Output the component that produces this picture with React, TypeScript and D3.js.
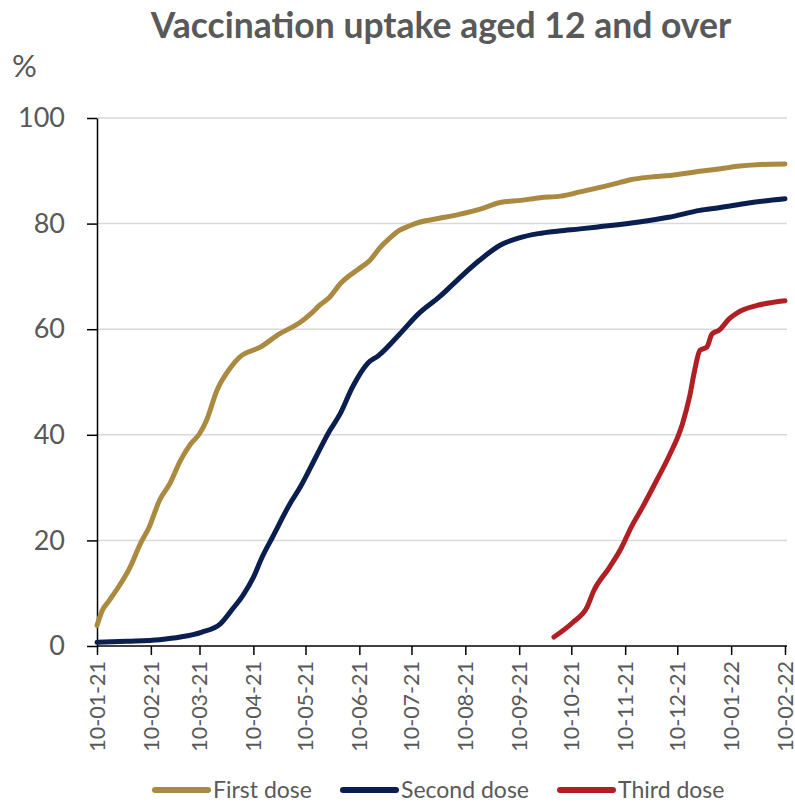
import React, { useRef, useEffect } from 'react';
import * as d3 from 'd3';

// first dose, % of people aged 12+
const firstDates = [
  '2021-01-10', '2021-01-13', '2021-01-17', '2021-01-23', '2021-01-29', '2021-02-04', '2021-02-09',
  '2021-02-15', '2021-02-21', '2021-02-27', '2021-03-05', '2021-03-10', '2021-03-14', '2021-03-20',
  '2021-03-28', '2021-04-02', '2021-04-14', '2021-04-25', '2021-05-07', '2021-05-13', '2021-05-18',
  '2021-05-24', '2021-05-30', '2021-06-10', '2021-06-16', '2021-06-22', '2021-06-28', '2021-07-03',
  '2021-07-09', '2021-07-15', '2021-07-26', '2021-08-07', '2021-08-19', '2021-08-30', '2021-09-11',
  '2021-09-22', '2021-10-04', '2021-10-15', '2021-10-27', '2021-11-07', '2021-11-13', '2021-11-24',
  '2021-12-06', '2021-12-23', '2022-01-04', '2022-01-15', '2022-01-27', '2022-02-10',
];
const firstValues = [
  3.9, 6.7, 8.6, 11.5, 14.9, 19.4, 22.5,
  27.6, 30.8, 35.1, 38.3, 40.2, 42.7, 48.4,
  52.8, 54.7, 56.6, 59.1, 61.3, 62.9, 64.5,
  66.1, 68.6, 71.5, 73.0, 75.5, 77.4, 78.7,
  79.6, 80.3, 81.0, 81.8, 82.8, 84.0, 84.4,
  84.9, 85.2, 86.0, 86.9, 87.8, 88.3, 88.8,
  89.1, 89.9, 90.4, 90.9, 91.2, 91.3,
];

const secondDates = [
  '2021-01-10', '2021-01-27', '2021-02-15', '2021-02-27', '2021-03-11', '2021-03-22', '2021-03-29',
  '2021-04-04', '2021-04-10', '2021-04-15', '2021-04-21', '2021-05-01', '2021-05-07', '2021-05-16',
  '2021-05-24', '2021-05-30', '2021-06-06', '2021-06-15', '2021-06-21', '2021-07-03', '2021-07-14',
  '2021-07-26', '2021-08-06', '2021-08-18', '2021-08-30', '2021-09-10', '2021-09-21', '2021-10-03',
  '2021-10-15', '2021-10-26', '2021-11-18', '2021-12-05', '2021-12-23', '2022-01-03', '2022-01-20',
  '2022-02-10',
];
const secondValues = [
  0.7, 0.9, 1.2, 1.7, 2.6, 4.2, 7.0,
  9.6, 13.0, 16.8, 20.6, 26.9, 30.1, 35.8,
  40.8, 44.0, 49.0, 53.6, 55.0, 59.0, 62.9,
  66.1, 69.5, 73.0, 75.9, 77.3, 78.1, 78.6,
  79.0, 79.4, 80.3, 81.2, 82.5, 83.0, 83.9,
  84.7,
];

const thirdDates = [
  '2021-09-30', '2021-10-11', '2021-10-19', '2021-10-23', '2021-11-01', '2021-11-08', '2021-11-13',
  '2021-11-20', '2021-11-28', '2021-12-05', '2021-12-13', '2021-12-17', '2021-12-20', '2021-12-23',
  '2021-12-27', '2021-12-30', '2022-01-03', '2022-01-09', '2022-01-14', '2022-01-25', '2022-02-10',
];
const thirdValues = [
  1.7, 4.5, 7.3, 10.5, 14.9, 18.7, 22.2,
  26.3, 31.3, 35.8, 42.1, 47.1, 52.2, 56.0,
  56.6, 59.1, 59.8, 62.0, 63.2, 64.5, 65.4,
];

const tickDates = [
  '2021-01-10', '2021-02-10', '2021-03-10', '2021-04-10', '2021-05-10', '2021-06-10', '2021-07-10',
  '2021-08-10', '2021-09-10', '2021-10-10', '2021-11-10', '2021-12-10', '2022-01-10', '2022-02-10',
];
const yTicks = [0, 20, 40, 60, 80, 100];

const seriesNames = ['First dose', 'Second dose', 'Third dose'];
const colors = ['#A98A40', '#0A1F50', '#B01F24'];

const FONT = 'Lato, sans-serif';
const GREY = '#595959';

export default function App() {
  const svgRef = useRef(null);

  useEffect(() => {
    const svg = d3.select(svgRef.current);
    svg.selectAll('*').remove();

    const parse = d3.timeParse('%Y-%m-%d');
    const fmt = d3.timeFormat('%d-%m-%y');

    const left = 97, right = 785, top = 118, bottom = 646;

    const x = d3.scaleTime()
      .domain([parse(tickDates[0]), parse(tickDates[tickDates.length - 1])])
      .range([left, right]);
    const y = d3.scaleLinear().domain([0, 100]).range([bottom, top]);

    // title and unit
    svg.append('text')
      .attr('x', (left + right) / 2)
      .attr('y', 38)
      .attr('text-anchor', 'middle')
      .attr('font-family', FONT)
      .attr('font-weight', 700)
      .attr('font-size', 35.5)
      .attr('fill', GREY)
      .text('Vaccination uptake aged 12 and over');

    svg.append('text')
      .attr('x', 12)
      .attr('y', 77)
      .attr('font-family', FONT)
      .attr('font-size', 31)
      .attr('fill', GREY)
      .text('%');

    // gridlines
    svg.append('g')
      .selectAll('line')
      .data(yTicks.filter(d => d > 0))
      .join('line')
      .attr('x1', left)
      .attr('x2', right + 2)
      .attr('y1', d => y(d))
      .attr('y2', d => y(d))
      .attr('stroke', '#d9d9d9')
      .attr('stroke-width', 1.5);

    // y axis
    const yAxis = svg.append('g')
      .attr('transform', `translate(${left},0)`)
      .call(d3.axisLeft(y).tickValues(yTicks).tickSize(10).tickSizeOuter(0).tickPadding(22));
    yAxis.select('.domain').attr('stroke', '#000').attr('stroke-width', 1.5);
    yAxis.selectAll('line').attr('stroke', '#000').attr('stroke-width', 1.5);
    yAxis.selectAll('text')
      .attr('font-family', FONT)
      .attr('font-size', 27)
      .attr('fill', GREY);

    // x axis
    const xAxis = svg.append('g')
      .attr('transform', `translate(0,${bottom})`)
      .call(d3.axisBottom(x).tickValues(tickDates.map(parse)).tickFormat(fmt).tickSize(9).tickSizeOuter(0));
    xAxis.select('.domain').attr('stroke', '#000').attr('stroke-width', 1.5).attr('d', `M${left},0H${right + 2}`);
    xAxis.selectAll('line').attr('stroke', '#000').attr('stroke-width', 1.5);
    xAxis.selectAll('text')
      .attr('font-family', FONT)
      .attr('font-size', 21.5)
      .attr('fill', GREY)
      .attr('transform', 'rotate(-90)')
      .attr('text-anchor', 'end')
      .attr('x', -15)
      .attr('y', 0)
      .attr('dy', '0.34em');

    // lines
    const series = [
      firstDates.map((d, i) => [parse(d), firstValues[i]]),
      secondDates.map((d, i) => [parse(d), secondValues[i]]),
      thirdDates.map((d, i) => [parse(d), thirdValues[i]]),
    ];
    const line = d3.line()
      .x(d => x(d[0]))
      .y(d => y(d[1]))
      .curve(d3.curveMonotoneX);

    svg.append('g')
      .selectAll('path')
      .data(series)
      .join('path')
      .attr('d', d => line(d))
      .attr('fill', 'none')
      .attr('stroke', (d, i) => colors[i])
      .attr('stroke-width', 5)
      .attr('stroke-linecap', 'round')
      .attr('stroke-linejoin', 'round');

    // legend
    const legendX = [155, 343, 560];
    const legend = svg.append('g')
      .selectAll('g')
      .data(seriesNames)
      .join('g')
      .attr('transform', (d, i) => `translate(${legendX[i]},790)`);
    legend.append('line')
      .attr('x1', 0)
      .attr('x2', 53)
      .attr('stroke', (d, i) => colors[i])
      .attr('stroke-width', 6)
      .attr('stroke-linecap', 'round');
    legend.append('text')
      .attr('x', 58)
      .attr('dy', '0.36em')
      .attr('font-family', FONT)
      .attr('font-size', 23)
      .attr('fill', GREY)
      .text(d => d);
  }, []);

  return (
    <svg
      ref={svgRef}
      width={795}
      height={803}
      style={{ position: 'absolute', left: 0, top: 0, display: 'block', background: '#fff' }}
    />
  );
}
